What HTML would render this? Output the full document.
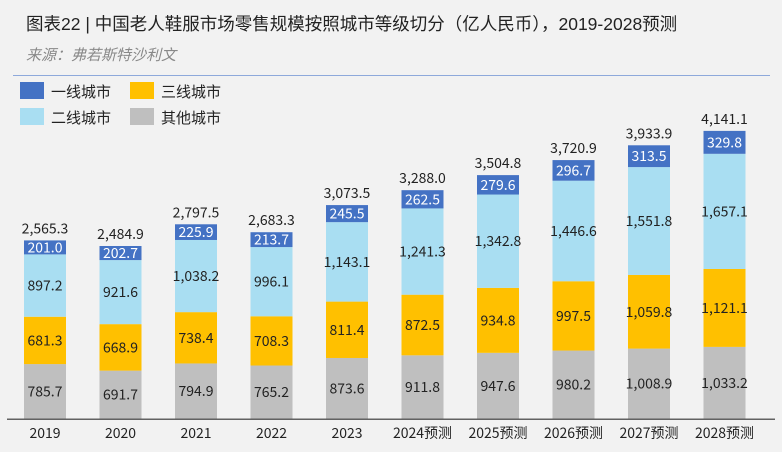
<!DOCTYPE html>
<html><head><meta charset="utf-8">
<style>
body{margin:0;background:#f2f2f2;}
#wrap{position:relative;width:782px;height:452px;background:#f2f2f2;font-family:"Liberation Sans","Noto Sans CJK SC",sans-serif;overflow:hidden}
.t{position:absolute;white-space:nowrap}
svg text{font-family:"Noto Sans CJK SC","Liberation Sans",sans-serif;}
</style></head><body>
<div id="wrap">
<div class="t" style="left:26px;top:11px;font-size:17.5px;color:#222">图表22 | 中国老人鞋服市场零售规模按照城市等级切分（亿人民币），2019-2028预测</div>
<div class="t" style="left:26px;top:44px;font-size:15px;color:#888;font-style:italic">来源：弗若斯特沙利文</div>
<div style="position:absolute;left:13px;top:75px;width:757px;height:1px;background:#8ea9db"></div>
<svg id="svg" width="782" height="452" style="position:absolute;left:0;top:0"></svg>
</div>
<script>
const categories=["2019","2020","2021","2022","2023","2024预测","2025预测","2026预测","2027预测","2028预测"];
const other=[785.7,691.7,794.9,765.2,873.6,911.8,947.6,980.2,1008.9,1033.2];
const tier3=[681.3,668.9,738.4,708.3,811.4,872.5,934.8,997.5,1059.8,1121.1];
const tier2=[897.2,921.6,1038.2,996.1,1143.1,1241.3,1342.8,1446.6,1551.8,1657.1];
const tier1=[201.0,202.7,225.9,213.7,245.5,262.5,279.6,296.7,313.5,329.8];
const totals=[2565.3,2484.9,2797.5,2683.3,3073.5,3288.0,3504.8,3720.9,3933.9,4141.1];
const seriesNames=["一线城市","三线城市","二线城市","其他城市"];
const svg=document.getElementById('svg');
const NS="http://www.w3.org/2000/svg";
const base=418.7, k=0.0695, x0=45, step=75.5, bw=42;
function yS(v){return base-v*k;}
function xS(i){return x0+i*step;}
function fmt(v){return v.toLocaleString('en-US',{minimumFractionDigits:1,maximumFractionDigits:1});}
function mk(tag,attrs){const e=document.createElementNS(NS,tag);for(const a in attrs)e.setAttribute(a,attrs[a]);svg.appendChild(e);return e;}
const series=[{d:other,c:"#bfbfbf",n:"other",tc:"#222"},{d:tier3,c:"#ffc000",n:"tier3",tc:"#222"},{d:tier2,c:"#a9def2",n:"tier2",tc:"#222"},{d:tier1,c:"#4472c4",n:"tier1",tc:"#fff"}];
categories.forEach((cat,i)=>{
  let cum=0;
  series.forEach(s=>{
    const v=s.d[i];
    const r=mk('rect',{x:xS(i)-bw/2,y:yS(cum+v),width:bw,height:v*k,fill:s.c});
    
    
    const t=mk('text',{x:xS(i),y:yS(cum+v/2)+5,'text-anchor':'middle','font-size':'14',fill:s.tc});
    t.textContent=fmt(v);
    
    
    cum+=v;
  });
  const tt=mk('text',{x:xS(i),y:yS(cum)-7,'text-anchor':'middle','font-size':'14',fill:'#222'});
  tt.textContent=fmt(totals[i]);
  
  
  const cl=mk('text',{x:xS(i),y:438,'text-anchor':'middle','font-size':'14',fill:'#222'});
  cl.textContent=cat;
  
  
});
const ax=mk('line',{x1:7,x2:775,y1:base+0.5,y2:base+0.5,stroke:'#333','stroke-width':1.2});


const leg=[{c:"#4472c4",x:20,y:82},{c:"#ffc000",x:130,y:82},{c:"#a9def2",x:20,y:108},{c:"#bfbfbf",x:130,y:108}];
leg.forEach((l,j)=>{
  const r=mk('rect',{x:l.x,y:l.y,width:24,height:17,fill:l.c});
  
  
  const t=mk('text',{x:l.x+31,y:l.y+15,'font-size':'15',fill:'#222'});
  t.textContent=seriesNames[j];
  
  
});
</script>
</body></html>
